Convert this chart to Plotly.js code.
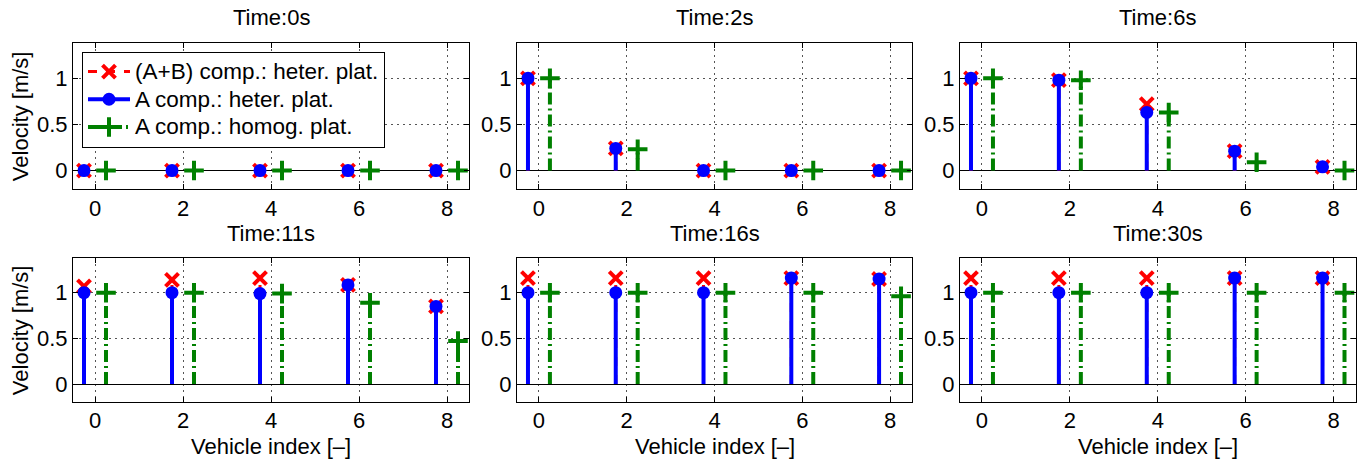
<!DOCTYPE html>
<html><head><meta charset="utf-8">
<script src="https://cdn.plot.ly/plotly-3.0.1.min.js"></script>
<style>html,body{margin:0;padding:0;background:#fff}#chart{width:1365px;height:459px}</style>
</head><body><div id="chart"></div>
<script>
// ---- data ----
const vehicles = [0, 2, 4, 6, 8];
const panelTitles = ['Time:0s', 'Time:2s', 'Time:6s', 'Time:11s', 'Time:16s', 'Time:30s'];
const seriesNames = ['(A+B) comp.: heter. plat.', 'A comp.: heter. plat.', 'A comp.: homog. plat.'];
const yTicks = [0, 0.5, 1];
const yTickText = ['0', '0.5', '1'];
const xLabel = 'Vehicle index [\u2013]';
const yLabel = 'Velocity [m/s]';

// (A+B) comp.: heter. plat. — one array per panel
const abHeter0  = [0, 0, 0, 0, 0];
const abHeter2  = [1.0, 0.24, 0, 0, 0];
const abHeter6  = [1.0, 0.98, 0.72, 0.21, 0.04];
const abHeter11 = [1.07, 1.14, 1.16, 1.085, 0.85];
const abHeter16 = [1.16, 1.16, 1.16, 1.16, 1.15];
const abHeter30 = [1.16, 1.16, 1.16, 1.16, 1.16];
// A comp.: heter. plat.
const aHeter0  = [0, 0, 0, 0, 0];
const aHeter2  = [1.0, 0.24, 0, 0, 0];
const aHeter6  = [1.0, 0.98, 0.63, 0.21, 0.04];
const aHeter11 = [1.0, 1.0, 0.99, 1.085, 0.85];
const aHeter16 = [1.0, 1.0, 1.0, 1.16, 1.15];
const aHeter30 = [1.0, 1.0, 1.0, 1.16, 1.16];
// A comp.: homog. plat.
const aHomog0  = [0, 0, 0, 0, 0];
const aHomog2  = [1.0, 0.23, 0, 0, 0];
const aHomog6  = [1.0, 0.98, 0.63, 0.09, 0.0];
const aHomog11 = [1.0, 1.0, 0.99, 0.89, 0.47];
const aHomog16 = [1.0, 1.0, 1.0, 1.0, 0.96];
const aHomog30 = [1.0, 1.0, 1.0, 1.0, 1.0];

const abHeter = [abHeter0, abHeter2, abHeter6, abHeter11, abHeter16, abHeter30];
const aHeter  = [aHeter0, aHeter2, aHeter6, aHeter11, aHeter16, aHeter30];
const aHomog  = [aHomog0, aHomog2, aHomog6, aHomog11, aHomog16, aHomog30];

// ---- styling ----
const W = 1365, H = 459;
const FONT = 'Liberation Sans, Arial, Helvetica, sans-serif';
const FS = 22;
const colX = [[73, 469], [517, 912], [960, 1355.5]];
const rowY = [[43.3, 189], [258, 402.3]];
const shift = 0.25;
const styles = [
  {color: '#ff0000', dash: 'dash', lw: 3, symbol: 'x-thin', size: 13, mlw: 4},
  {color: '#0000ff', dash: 'solid', lw: 4, symbol: 'circle', size: 13, mlw: 0},
  {color: '#008000', dash: '12px,4px,2px,4px', lw: 4, symbol: 'cross-thin', size: 14, mlw: 4}
];
const offsets = [-shift, -shift, shift];
const allSeries = [abHeter, aHeter, aHomog];

function stem(xs, ys) {
  const sx = [], sy = [];
  xs.forEach((x, i) => { sx.push(x, x, null); sy.push(0, ys[i], null); });
  return {sx, sy};
}

const traces = [];
const layout = {
  width: W, height: H,
  margin: {l: 0, r: 0, t: 0, b: 0},
  paper_bgcolor: '#fff', plot_bgcolor: '#fff',
  font: {family: FONT, size: FS, color: '#000'},
  showlegend: true,
  legend: {
    x: 82 / W, y: 1 - 51.7 / H, xanchor: 'left', yanchor: 'top',
    bgcolor: '#fff', bordercolor: '#000', borderwidth: 1,
    font: {family: FONT, size: 19, color: '#000'},
    traceorder: 'normal', tracegroupgap: 0, itemwidth: 42
  },
  annotations: []
};

const gridDash = '2px,4px';
for (let p = 0; p < 6; p++) {
  const r = Math.floor(p / 3), c = p % 3;
  const n = p + 1;
  const xa = 'x' + (n === 1 ? '' : n), ya = 'y' + (n === 1 ? '' : n);
  const xk = 'xaxis' + (n === 1 ? '' : n), yk = 'yaxis' + (n === 1 ? '' : n);
  layout[xk] = {
    domain: [colX[c][0] / W, colX[c][1] / W], anchor: ya,
    range: [-0.5, 8.5], tickvals: vehicles, ticktext: vehicles.map(String),
    showline: true, linecolor: '#000', linewidth: 1, mirror: 'ticks',
    ticks: 'inside', ticklen: 5, tickcolor: '#000', tickwidth: 1,
    showgrid: true, gridcolor: '#555', griddash: gridDash, gridwidth: 1,
    zeroline: false, fixedrange: true,
    ticklabelstandoff: r === 1 ? -2 : 0,
    tickfont: {family: FONT, size: FS}
  };
  layout[yk] = {
    domain: [1 - rowY[r][1] / H, 1 - rowY[r][0] / H], anchor: xa,
    range: [-0.2, 1.38], tickvals: yTicks, ticktext: yTickText,
    showline: true, linecolor: '#000', linewidth: 1, mirror: 'ticks',
    ticks: 'inside', ticklen: 5, tickcolor: '#000', tickwidth: 1,
    showgrid: true, gridcolor: '#555', griddash: gridDash, gridwidth: 1,
    zeroline: true, zerolinecolor: '#000', zerolinewidth: 1, fixedrange: true,
    tickfont: {family: FONT, size: FS}
  };
  for (let s = 0; s < 3; s++) {
    const st = styles[s];
    const xs = vehicles.map(v => v + offsets[s]);
    const ys = allSeries[s][p];
    const {sx, sy} = stem(xs, ys);
    traces.push({
      type: 'scatter', mode: 'lines', x: sx, y: sy, xaxis: xa, yaxis: ya,
      line: {color: st.color, width: st.lw, dash: st.dash}, showlegend: false, hoverinfo: 'skip'
    });
    traces.push({
      type: 'scatter', mode: 'markers', x: xs, y: ys, xaxis: xa, yaxis: ya,
      marker: {color: st.color, size: st.size, symbol: st.symbol, line: {color: st.color, width: st.mlw}},
      showlegend: false, hoverinfo: 'skip', cliponaxis: false
    });
  }
  layout.annotations.push({
    text: panelTitles[p], xref: 'paper', yref: 'paper',
    x: (colX[c][0] + colX[c][1]) / 2 / W, y: 1 - (r === 0 ? 18 : 233) / H,
    xanchor: 'center', yanchor: 'middle', showarrow: false,
    font: {family: FONT, size: FS, color: '#000'}
  });
  if (r === 1) {
    layout.annotations.push({
      text: xLabel, xref: 'paper', yref: 'paper',
      x: (colX[c][0] + colX[c][1]) / 2 / W, y: 1 - 446 / H,
      xanchor: 'center', yanchor: 'middle', showarrow: false,
      font: {family: FONT, size: FS, color: '#000'}
    });
  }
  if (c === 0) {
    layout.annotations.push({
      text: yLabel, xref: 'paper', yref: 'paper',
      x: 20 / W, y: 1 - (rowY[r][0] + rowY[r][1]) / 2 / H,
      xanchor: 'center', yanchor: 'middle', textangle: -90, showarrow: false,
      font: {family: FONT, size: FS, color: '#000'}
    });
  }
}

for (let s = 0; s < 3; s++) {
  const st = styles[s];
  traces.push({
    type: 'scatter', mode: 'lines+markers', x: [null], y: [null], xaxis: 'x', yaxis: 'y',
    name: '<span style="font-size:22.5px">' + seriesNames[s] + '</span>',
    line: {color: st.color, width: st.lw, dash: st.dash},
    marker: {color: st.color, size: st.size, symbol: st.symbol, line: {color: st.color, width: st.mlw}},
    showlegend: true, hoverinfo: 'skip'
  });
}

Plotly.newPlot('chart', traces, layout, {displayModeBar: false, staticPlot: true});
</script>
</body></html>
